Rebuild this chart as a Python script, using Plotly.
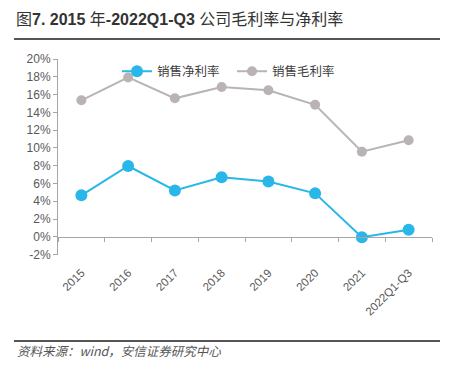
import plotly.graph_objects as go

categories = ["2015", "2016", "2017", "2018", "2019", "2020", "2021", "2022Q1-Q3"]
net_margin = [4.67, 7.97, 5.22, 6.70, 6.23, 4.89, -0.04, 0.79]
gross_margin = [15.36, 17.93, 15.58, 16.85, 16.48, 14.85, 9.57, 10.87]
y_ticks = list(range(-2, 21, 2))
y_tick_labels = [f"{v}%" for v in y_ticks]

BLUE = "#29B7E9"
GRAY = "#BAB3B3"
CJK = "Liberation Sans, Arial, Noto Sans CJK SC, sans-serif"

W, H = 451, 384
# plot area in page pixels
PX0, PX1, PY0, PY1 = 58, 432, 54, 257


def fx(px):
    return px / W


def fy(py):
    return 1 - py / H


fig = go.Figure()
fig.add_trace(go.Scatter(
    x=categories, y=net_margin, name="销售净利率", mode="lines+markers",
    line=dict(color=BLUE, width=2), marker=dict(color=BLUE, size=12),
))
fig.add_trace(go.Scatter(
    x=categories, y=gross_margin, name="销售毛利率", mode="lines+markers",
    line=dict(color=GRAY, width=2), marker=dict(color=GRAY, size=10),
))
# invisible trace carrying the zero-line category axis
fig.add_trace(go.Scatter(
    x=categories, y=net_margin, xaxis="x2", mode="markers",
    marker=dict(opacity=0), showlegend=False, hoverinfo="skip",
))
# empty traces carrying the header / footer rule axes
fig.add_trace(go.Scatter(x=[0, 1], y=[0, 1], xaxis="x3", yaxis="y3", mode="markers",
                         marker=dict(opacity=0), showlegend=False, hoverinfo="skip"))
fig.add_trace(go.Scatter(x=[0, 1], y=[0, 1], xaxis="x4", yaxis="y3", mode="markers",
                         marker=dict(opacity=0), showlegend=False, hoverinfo="skip"))

zero_pos = fy(PY1) + (2 / 22) * (PY1 - PY0) / H

rule_axis = dict(showgrid=False, zeroline=False, showticklabels=False, ticks="",
                 showline=True, linecolor="#555555", anchor="free",
                 domain=[fx(14), fx(440)], range=[0, 1], fixedrange=True)

fig.update_layout(
    width=W, height=H, autosize=False,
    margin=dict(l=0, r=0, t=0, b=0),
    paper_bgcolor="white", plot_bgcolor="rgba(0,0,0,0)",
    font=dict(family=CJK, color="#595959", size=12),
    showlegend=True,
    hovermode=False,
    legend=dict(
        orientation="h", x=fx(117), xanchor="left", y=fy(67), yanchor="middle",
        font=dict(size=12.5, color="#404040", family="Noto Sans CJK SC"),
        bgcolor="rgba(0,0,0,0)", entrywidth=70, tracegroupgap=0,
    ),
    xaxis=dict(
        domain=[fx(PX0), fx(PX1)],
        type="category", categoryorder="array", categoryarray=categories,
        range=[-0.5, 7.5], showgrid=False, showline=False, zeroline=False,
        ticks="outside", ticklen=6, tickcolor="rgba(0,0,0,0)", tickangle=-45,
        tickfont=dict(size=11.5, color="#595959"),
    ),
    xaxis2=dict(
        domain=[fx(PX0), fx(PX1)],
        type="category", categoryorder="array", categoryarray=categories,
        range=[-0.5, 7.5], overlaying="x", anchor="free", position=zero_pos,
        side="bottom", showgrid=False, zeroline=False, showticklabels=False,
        showline=True, linecolor="#A6A6A6", linewidth=1,
        ticks="outside", ticklen=4, tickcolor="#A6A6A6", tickson="boundaries",
    ),
    yaxis=dict(
        domain=[fy(PY1), fy(PY0)],
        range=[-2, 20], tickvals=y_ticks, ticktext=y_tick_labels,
        showgrid=False, zeroline=False, showline=True, linecolor="#A6A6A6",
        ticks="outside", ticklen=4, tickcolor="#A6A6A6",
        tickfont=dict(size=12, color="#595959"),
    ),
    xaxis3=dict(rule_axis, position=fy(33), linewidth=2),
    xaxis4=dict(rule_axis, position=fy(347), linewidth=1.5),
    yaxis3=dict(domain=[0, 1], range=[0, 1], visible=False, anchor="free", position=0,
                fixedrange=True),
)

fig.add_annotation(
    xref="paper", yref="paper", x=fx(14), y=fy(13), xanchor="left", yanchor="middle",
    text="图<b>7. 2015 </b>年<b>-2022Q1-Q3 </b>公司毛利率与净利率",
    showarrow=False, font=dict(size=16, color="#333333", family=CJK),
)
fig.add_annotation(
    xref="paper", yref="paper", x=fx(15), y=fy(356), xanchor="left", yanchor="middle",
    text="<i>资料来源：wind，安信证券研究中心</i>",
    showarrow=False, font=dict(size=12.5, color="#555555", family="Noto Sans CJK SC"),
)

fig.write_html("out.html", config={"displayModeBar": False},
               post_script="document.body.style.margin='0px';")
